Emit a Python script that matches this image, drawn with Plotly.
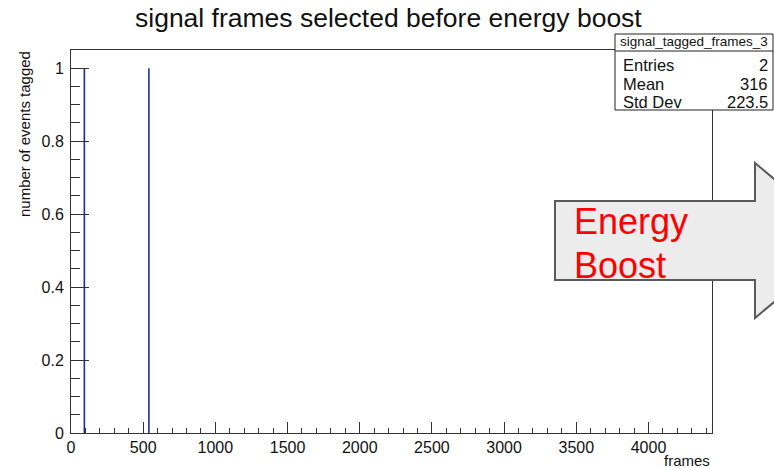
import plotly.graph_objects as go

# ---- data ----
frames = [92.5, 539.5]          # bin centres with entries
counts = [1, 1]                 # number of events tagged
x_ticks = [0, 500, 1000, 1500, 2000, 2500, 3000, 3500, 4000]
y_ticks = [0, 0.2, 0.4, 0.6, 0.8, 1]
y_tick_text = ["0", "0.2", "0.4", "0.6", "0.8", "1"]
stats_labels = ["Entries", "Mean", "Std Dev"]
stats_values = ["2", "316", "223.5"]
hist_name = "signal_tagged_frames_3"

W, H = 774, 468
ml, mr, mt, mb = 71, 62, 50, 35
pw, ph = W - ml - mr, H - mt - mb


def px(x):
    return (x - ml) / pw


def py(y):
    return (H - mb - y) / ph


FONT = "Liberation Sans, Arial, Helvetica, sans-serif"

# build vertical spikes from the data
xs, ys = [], []
for f, c in zip(frames, counts):
    xs += [f, f, None]
    ys += [0, c, None]

fig = go.Figure()
fig.add_trace(go.Scatter(x=xs, y=ys, mode="lines",
                         line=dict(color="#1f2c9c", width=1.6),
                         hoverinfo="skip", showlegend=False))

axis_common = dict(showgrid=False, zeroline=False, showline=True, linecolor="#333333",
                   linewidth=1, mirror=True, ticks="inside", tickcolor="#333333",
                   tickfont=dict(family=FONT, size=16, color="#111111"))

fig.update_layout(
    width=W, height=H,
    margin=dict(l=ml, r=mr, t=mt, b=mb),
    paper_bgcolor="white", plot_bgcolor="white",
    xaxis=dict(range=[0, 4440], tickvals=x_ticks, ticklen=11,
               minor=dict(dtick=100, ticklen=5, ticks="inside", tickcolor="#333333"),
               **axis_common),
    yaxis=dict(range=[0, 1.05], tickvals=y_ticks, ticktext=y_tick_text,
               ticklen=18, ticklabelstandoff=3,
               minor=dict(dtick=0.05, ticklen=9, ticks="inside", tickcolor="#333333"),
               **axis_common),
    showlegend=False,
)

shapes = []
# energy boost arrow
pts = [(555, 201), (755, 201), (755, 163), (848, 240.5), (755, 318), (755, 280), (555, 280)]
path = "M " + " L ".join(f"{px(a):.5f},{py(b):.5f}" for a, b in pts) + " Z"
shapes.append(dict(type="path", xref="paper", yref="paper", path=path,
                   fillcolor="#ececec", line=dict(color="#5a5a5a", width=2), layer="above"))
# stats box
shapes.append(dict(type="rect", xref="paper", yref="paper",
                   x0=px(615), x1=px(773), y0=py(110), y1=py(34),
                   fillcolor="white", line=dict(color="#222222", width=1), layer="above"))
shapes.append(dict(type="line", xref="paper", yref="paper",
                   x0=px(615), x1=px(773), y0=py(51), y1=py(51),
                   line=dict(color="#222222", width=1), layer="above"))
fig.update_layout(shapes=shapes)

ann = []
ann.append(dict(text="signal frames selected before energy boost", x=px(388), y=py(18),
                xref="paper", yref="paper", showarrow=False, xanchor="center", yanchor="middle",
                font=dict(family=FONT, size=26.5, color="#111111")))
ann.append(dict(text="number of events tagged", x=px(24), y=py(134), textangle=-90,
                xref="paper", yref="paper", showarrow=False, xanchor="center", yanchor="middle",
                font=dict(family=FONT, size=15, color="#111111")))
ann.append(dict(text="frames", x=px(712), y=py(460),
                xref="paper", yref="paper", showarrow=False, xanchor="right", yanchor="middle",
                font=dict(family=FONT, size=15, color="#111111")))
ann.append(dict(text=hist_name, x=px(694), y=py(42),
                xref="paper", yref="paper", showarrow=False, xanchor="center", yanchor="middle",
                font=dict(family=FONT, size=13.5, color="#111111")))
row_y = [65, 83.5, 102]
for lab, val, yy in zip(stats_labels, stats_values, row_y):
    ann.append(dict(text=lab, x=px(622), y=py(yy), xref="paper", yref="paper", showarrow=False,
                    xanchor="left", yanchor="middle", borderpad=0,
                    font=dict(family=FONT, size=16.5, color="#111111")))
    ann.append(dict(text=val, x=px(769), y=py(yy), xref="paper", yref="paper", showarrow=False,
                    xanchor="right", yanchor="middle", borderpad=0,
                    font=dict(family=FONT, size=16.5, color="#111111")))
ann.append(dict(text="Energy", x=px(572), y=py(221), xref="paper", yref="paper", showarrow=False,
                xanchor="left", yanchor="middle", font=dict(family=FONT, size=36, color="#ff0000")))
ann.append(dict(text="Boost", x=px(572), y=py(265), xref="paper", yref="paper", showarrow=False,
                xanchor="left", yanchor="middle", font=dict(family=FONT, size=36, color="#ff0000")))
fig.update_layout(annotations=ann)

fig.write_html("out.html", config={"displayModeBar": False},
               post_script="document.body.style.margin='0px';document.body.style.overflow='hidden';")
